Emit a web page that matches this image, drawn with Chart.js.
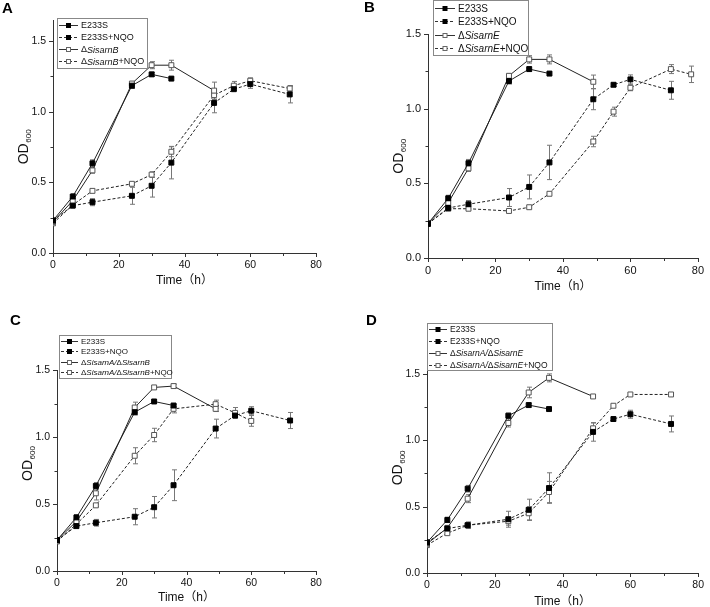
<!DOCTYPE html>
<html>
<head>
<meta charset="utf-8">
<script src="https://cdn.jsdelivr.net/npm/chart.js@4/dist/chart.umd.min.js"></script>
<style>
  body { margin: 0; background: #fff; }
  #wrap { position: relative; width: 710px; height: 607px; overflow: hidden; }
  canvas { position: absolute; }
  .tag { position: absolute; font: bold 15px 'Liberation Sans', Arial, sans-serif; color: #000; }
</style>
</head>
<body>
<div id="wrap">
  <canvas id="cA" width="355" height="300" style="left:0;top:0"></canvas>
  <canvas id="cB" width="355" height="300" style="left:355px;top:0"></canvas>
  <canvas id="cC" width="355" height="307" style="left:0;top:300px"></canvas>
  <canvas id="cD" width="355" height="307" style="left:355px;top:300px"></canvas>
  <div class="tag" style="left:2px;top:-1px">A</div>
  <div class="tag" style="left:364px;top:-2px">B</div>
  <div class="tag" style="left:10px;top:311px">C</div>
  <div class="tag" style="left:366px;top:311px">D</div>
</div>
<script>
// sampling times (h)
const times = [0, 6, 12, 24, 30, 36, 49, 55, 60, 72];
const timesB = [0, 6, 12, 24, 30, 36, 49, 55, 60, 72, 78];
const xTicks = [0, 20, 40, 60, 80];
const yTicks = [0.0, 0.5, 1.0, 1.5];

// wild type, shared by all panels
const e233s = [0.23, 0.40, 0.635, 1.185, 1.265, 1.235];
const e233sErr = [0, 0.02, 0.025, 0.02, 0.015, 0.01];
const e233sNqo = [0.23, 0.335, 0.36, 0.405, 0.476, 0.64, 1.063, 1.16, 1.196, 1.123];
const e233sNqoErr = [0, 0.01, 0.025, 0.06, 0.08, 0.115, 0.07, 0.01, 0.03, 0.06];

// A: ΔSisarnB
const delB = [0.22, 0.37, 0.585, 1.20, 1.33, 1.33, 1.15];
const delBErr = [0, 0.01, 0.02, 0.015, 0.025, 0.035, 0.06];
const delBNqo = [0.21, 0.34, 0.44, 0.49, 0.555, 0.717, 1.118, 1.185, 1.22, 1.165];
const delBNqoErr = [0, 0.01, 0.01, 0.01, 0.02, 0.035, 0.03, 0.03, 0.02, 0.02];

// B: ΔSisarnE (NQO series runs to 78 h)
const delE = [0.23, 0.37, 0.60, 1.22, 1.33, 1.33, 1.18];
const delEErr = [0, 0.01, 0.02, 0.015, 0.025, 0.03, 0.045];
const delENqo = [0.23, 0.33, 0.33, 0.315, 0.34, 0.43, 0.78, 0.98, 1.14, 1.265, 1.23];
const delENqoErr = [0, 0.01, 0.01, 0.01, 0.01, 0.01, 0.035, 0.03, 0.02, 0.03, 0.055];

// C: ΔSisarnA/ΔSisarnB
const delAB = [0.23, 0.37, 0.58, 1.22, 1.37, 1.38, 1.21];
const delABErr = [0, 0.01, 0.05, 0.04, 0.01, 0.015, 0.02];
const delABNqo = [0.22, 0.35, 0.49, 0.86, 1.015, 1.21, 1.245, 1.18, 1.12];
const delABNqoErr = [0, 0.01, 0.01, 0.06, 0.05, 0.03, 0.03, 0.04, 0.04];

// D: ΔSisarnA/ΔSisarnE
const delAE = [0.22, 0.34, 0.56, 1.13, 1.36, 1.47, 1.33];
const delAEErr = [0, 0.01, 0.03, 0.03, 0.04, 0.03, 0.01];
const delAENqo = [0.21, 0.30, 0.36, 0.39, 0.45, 0.61, 1.09, 1.26, 1.345, 1.345];
const delAENqoErr = [0, 0.01, 0.02, 0.03, 0.05, 0.08, 0.04, 0.01, 0.01, 0.01];

const FONT = "'Liberation Sans', Arial, 'Noto Sans CJK SC', sans-serif";

function series(label, t, vals, err, filled, dashed) {
  return {
    label: label,
    data: vals.map((v, i) => ({ x: t[i], y: v })),
    err: err,
    showLine: true,
    borderColor: '#222',
    borderWidth: 1,
    borderDash: dashed ? [3, 2] : [],
    pointStyle: 'rect',
    pointRadius: 3.5,
    pointBorderWidth: 1,
    pointBorderColor: filled ? '#000' : '#555',
    pointBackgroundColor: filled ? '#000' : '#fff',
    filled: filled,
    dashed: dashed
  };
}

const errorBars = {
  id: 'errorBars',
  beforeDatasetsDraw(chart) {
    const { ctx, scales: { x, y } } = chart;
    ctx.save();
    ctx.strokeStyle = '#777';
    ctx.lineWidth = 1;
    chart.data.datasets.forEach(ds => {
      ds.err.forEach((e, i) => {
        if (!e) return;
        const p = ds.data[i];
        const px = Math.round(x.getPixelForValue(p.x)) + 0.5;
        const top = y.getPixelForValue(p.y + e), bot = y.getPixelForValue(p.y - e);
        ctx.beginPath();
        ctx.moveTo(px, top); ctx.lineTo(px, bot);
        ctx.moveTo(px - 2.5, top); ctx.lineTo(px + 2.5, top);
        ctx.moveTo(px - 2.5, bot); ctx.lineTo(px + 2.5, bot);
        ctx.stroke();
      });
    });
    ctx.restore();
  }
};

const axisDecor = {
  id: 'axisDecor',
  afterDraw(chart, args, o) {
    const { ctx, chartArea: ca, scales: { x, y } } = chart;
    ctx.save();
    ctx.strokeStyle = '#333';
    ctx.lineWidth = 1;
    ctx.beginPath();
    for (let v = 0; v <= 80; v += 10) {
      const px = Math.round(x.getPixelForValue(v)) + 0.5;
      ctx.moveTo(px, ca.bottom); ctx.lineTo(px, ca.bottom + (v % 20 === 0 ? 4 : 3));
    }
    for (let v = 0; v <= y.max + 1e-6; v += 0.25) {
      const py = Math.round(y.getPixelForValue(v)) + 0.5;
      ctx.moveTo(ca.left, py); ctx.lineTo(ca.left - (Math.abs(v * 2 - Math.round(v * 2)) < 1e-6 ? 4 : 2.5), py);
    }
    ctx.stroke();
    // axis titles
    ctx.fillStyle = '#111';
    ctx.textBaseline = 'middle';
    ctx.textAlign = 'center';
    ctx.font = o.titleSize + 'px ' + FONT;
    ctx.fillText('Time（h）', (ca.left + ca.right) / 2, ca.bottom + o.xTitleGap);
    ctx.translate(ca.left - 29, y.getPixelForValue(o.yTitleAt));
    ctx.rotate(-Math.PI / 2);
    const big = (o.titleSize + 2) + 'px ' + FONT, small = Math.round(o.titleSize * 0.65) + 'px ' + FONT;
    ctx.font = big;
    const w1 = ctx.measureText('OD').width;
    ctx.font = small;
    const w2 = ctx.measureText('600').width;
    ctx.textAlign = 'left';
    ctx.font = big;
    ctx.fillText('OD', -(w1 + w2) / 2, 0);
    ctx.font = small;
    ctx.fillText('600', -(w1 + w2) / 2 + w1 + 0.5, 4.5);
    ctx.restore();
  }
};

const boxLegend = {
  id: 'boxLegend',
  afterDraw(chart, args, o) {
    const ctx = chart.ctx;
    ctx.save();
    ctx.fillStyle = '#fff';
    ctx.fillRect(o.x, o.y, o.w, o.h);
    ctx.strokeStyle = '#888';
    ctx.lineWidth = 1;
    ctx.strokeRect(o.x + 0.5, o.y + 0.5, o.w, o.h);
    chart.data.datasets.forEach((ds, i) => {
      const ry = Math.round(o.y + o.first + i * o.step) + 0.5;
      const x0 = o.x + 2, x1 = o.x + o.sample;
      ctx.strokeStyle = '#333';
      ctx.setLineDash(ds.dashed ? [3, 2] : []);
      ctx.beginPath(); ctx.moveTo(x0, ry); ctx.lineTo(x1, ry); ctx.stroke();
      ctx.setLineDash([]);
      const mx = (x0 + x1) / 2;
      ctx.fillStyle = ds.filled ? '#000' : '#fff';
      ctx.strokeStyle = ds.filled ? '#000' : '#666';
      ctx.fillRect(mx - 2, ry - 2, 4, 4);
      ctx.strokeRect(mx - 2, ry - 2, 4, 4);
      ctx.fillStyle = '#111';
      ctx.textBaseline = 'middle';
      let tx = x1 + 3;
      ds.label.split(/(Sisarn[A-Z]\/?)/).forEach(part => {
        if (!part) return;
        ctx.font = (/^Sisarn/.test(part) ? 'italic ' : '') + o.size + 'px ' + FONT;
        ctx.fillText(part, tx, ry + 0.5);
        tx += ctx.measureText(part).width;
      });
    });
    ctx.restore();
  }
};

function panel(id, datasets, box) {
  new Chart(document.getElementById(id), {
    type: 'scatter',
    data: { datasets: datasets },
    plugins: [errorBars, axisDecor, boxLegend],
    options: {
      responsive: false,
      animation: false,
      layout: { padding: { left: 0, right: box.R, top: box.T, bottom: 0 } },
      scales: {
        x: {
          type: 'linear', min: 0, max: 80,
          afterFit: s => { s.height = box.XH; },
          afterBuildTicks: s => { s.ticks = xTicks.map(v => ({ value: v })); },
          grid: { display: false, drawTicks: false, tickLength: 0 },
          border: { display: true, color: '#333', width: 1 },
          ticks: { padding: 6, color: '#111', font: { family: FONT, size: box.tick }, maxRotation: 0, autoSkip: false }
        },
        y: {
          type: 'linear', min: 0, max: box.ymax,
          afterFit: s => { s.width = box.L; },
          afterBuildTicks: s => { s.ticks = yTicks.map(v => ({ value: v })); },
          grid: { display: false, drawTicks: false, tickLength: 0 },
          border: { display: true, color: '#333', width: 1 },
          ticks: { padding: 7, color: '#111', font: { family: FONT, size: box.tick }, callback: v => v.toFixed(1) }
        }
      },
      plugins: {
        legend: { display: false },
        tooltip: { enabled: false },
        axisDecor: { titleSize: 12, xTitleGap: box.xtg, yTitleAt: box.yta },
        boxLegend: box.legend
      }
    }
  });
}

panel('cA', [
  series('E233S', times, e233s, e233sErr, true, false),
  series('E233S+NQO', times, e233sNqo, e233sNqoErr, true, true),
  series('ΔSisarnB', times, delB, delBErr, false, false),
  series('ΔSisarnB+NQO', times, delBNqo, delBNqoErr, false, true)
], { L: 53, R: 39, T: 20, XH: 47, ymax: 1.65, tick: 10.5, xtg: 28, yta: 0.75,
     legend: { x: 57, y: 18, w: 90, h: 50, first: 7, step: 12, sample: 21, size: 9 } });

panel('cB', [
  series('E233S', times, e233s, e233sErr, true, false),
  series('E233S+NQO', times, e233sNqo, e233sNqoErr, true, true),
  series('ΔSisarnE', times, delE, delEErr, false, false),
  series('ΔSisarnE+NQO', timesB, delENqo, delENqoErr, false, true)
], { L: 73, R: 7, T: 34, XH: 42, ymax: 1.5, tick: 11, xtg: 29, yta: 0.68,
     legend: { x: 78, y: 0, w: 95, h: 55, first: 7.5, step: 13.6, sample: 22, size: 10 } });

panel('cC', [
  series('E233S', times, e233s, e233sErr, true, false),
  series('E233S+NQO', times, e233sNqo, e233sNqoErr, true, true),
  series('ΔSisarnA/ΔSisarnB', times, delAB, delABErr, false, false),
  series('ΔSisarnA/ΔSisarnB+NQO', times, delABNqo, delABNqoErr, false, true)
], { L: 57, R: 39, T: 70, XH: 36, ymax: 1.5, tick: 10.5, xtg: 27, yta: 0.8,
     legend: { x: 59, y: 35, w: 112, h: 43, first: 6, step: 10.3, sample: 19, size: 8 } });

panel('cD', [
  series('E233S', times, e233s, e233sErr, true, false),
  series('E233S+NQO', times, e233sNqo, e233sNqoErr, true, true),
  series('ΔSisarnA/ΔSisarnE', times, delAE, delAEErr, false, false),
  series('ΔSisarnA/ΔSisarnE+NQO', times, delAENqo, delAENqoErr, false, true)
], { L: 72, R: 8, T: 50, XH: 34, ymax: 1.68, tick: 10.5, xtg: 29, yta: 0.79,
     legend: { x: 72, y: 23, w: 125, h: 47, first: 6, step: 12, sample: 20, size: 8.5 } });
</script>
</body>
</html>
